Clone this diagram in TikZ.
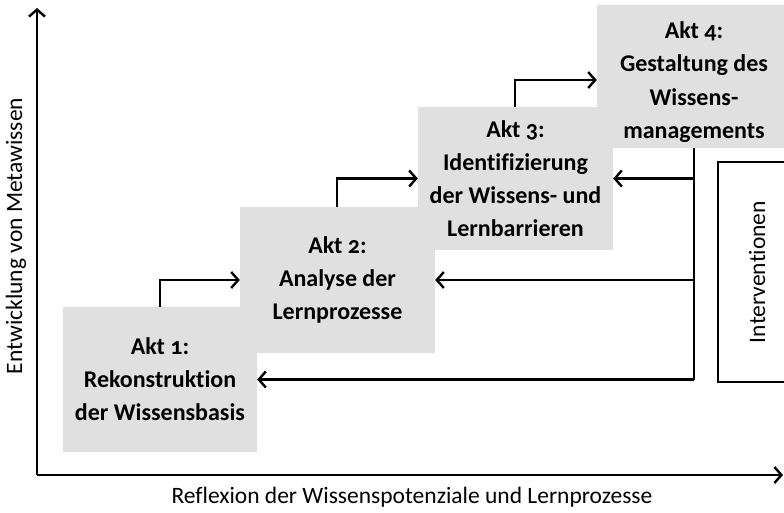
\documentclass[tikz,border=0pt]{standalone}
\usepackage{fontspec}
\setmainfont{Carlito}[Numbers=OldStyle,Ligatures=NoCommon]
\usetikzlibrary{arrows.meta,calc}
\definecolor{boxgray}{RGB}{224,224,224}
\tikzset{
  line/.style={line width=2.4pt},
  arr/.style={line, -{Straight Barb[length=7pt,width=16pt,line width=2.4pt]}},
  akt/.style={fill=boxgray, draw=none, align=center, inner sep=0pt,
    font=\bfseries\fontsize{24}{33}\selectfont},
  akttext/.style={align=center, inner sep=0pt,
    font=\bfseries\fontsize{24}{33.5}\selectfont},
  axislabel/.style={font=\fontsize{23.5}{26}\selectfont},
}
\begin{document}
\begin{tikzpicture}[x=1pt,y=-1pt]
\useasboundingbox (0,0) rectangle (784,513);
% boxes
\node[akt, minimum width=194pt, minimum height=145pt] (b1) at (160,379.5) {Akt 1:\\Rekonstruktion\\der Wissensbasis};
\node[akt, minimum width=195pt, minimum height=146pt] (b2) at (337.5,280) {Akt 2:\\Analyse der\\Lernprozesse};
\node[akt, minimum width=195pt, minimum height=143pt] (b3) at (515.5,178.5) {Akt 3:\\Identifizierung\\der Wissens- und\\Lernbarrieren};
\node[akt, minimum width=194pt, minimum height=143pt] (b4) at (694,76.5) {};
\node[akttext] (b4t) at (694,82) {Akt 4:\\Gestaltung des\\Wissens-\\managements};
\node[draw, line width=2.4pt, fill=white, minimum width=220pt, minimum height=78pt, rotate=90, axislabel] (iv) at (757,272) {Interventionen};
% axes
\coordinate (o) at (37,475);
\coordinate (ytop) at (37,8);
\coordinate (xend) at (783,475);
\draw[arr] (o) -- (ytop);
\draw[arr] (o) -- (xend);
\node[axislabel, rotate=90] (ylab) at (16,236) {Entwicklung von Metawissen};
\node[axislabel] (xlab) at (412,497) {Reflexion der Wissenspotenziale und Lernprozesse};
% step arrows
\draw[arr] (b1.north -| 160,0) |- (b2.west);
\draw[arr] (b2.north -| 337,0) |- (b3.west);
\coordinate (b4in) at (b4.west |- 0,80);
\draw[arr] (b3.north -| 515,0) |- (b4in);
% feedback
\coordinate (s) at (b4.south);
\coordinate (send) at (s |- b1.east);
\draw[line] (s) -- (send);
\draw[arr] (send) -- (b1.east);
\draw[arr] (s |- b2.east) -- (b2.east);
\draw[arr] (s |- b3.east) -- (b3.east);
\end{tikzpicture}
\end{document}
